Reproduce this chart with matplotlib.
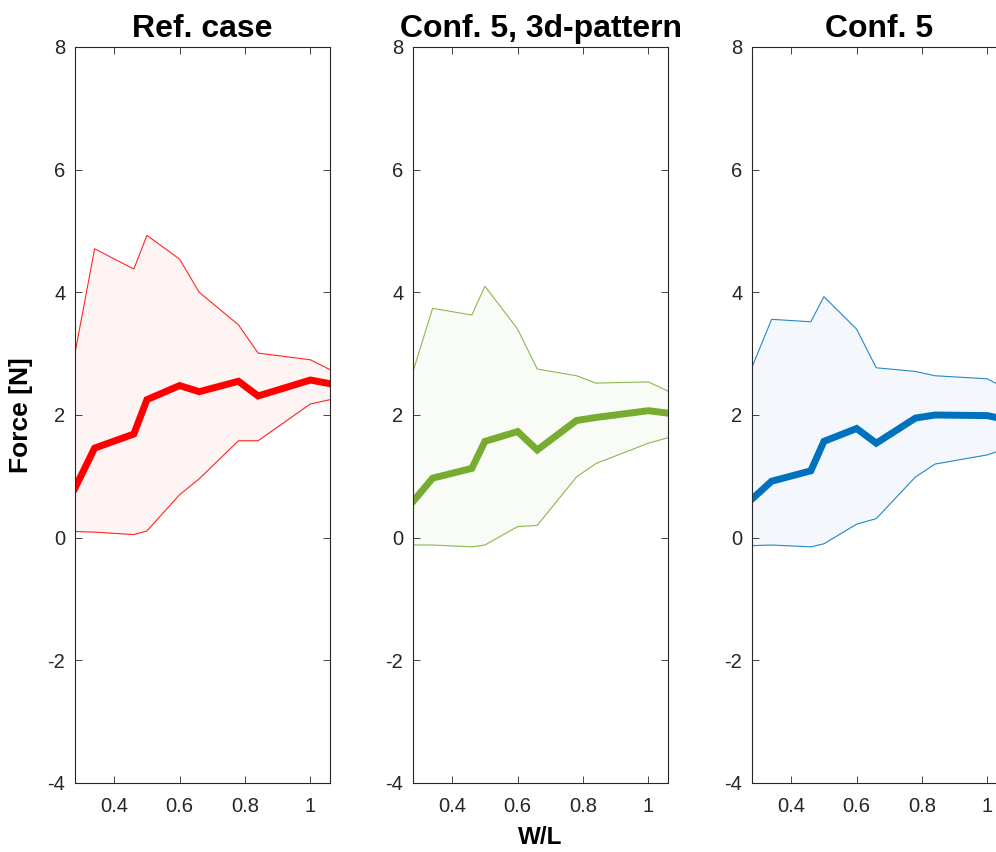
import matplotlib
matplotlib.use("Agg")
import matplotlib.pyplot as plt

plt.rcParams['font.family'] = ['Liberation Sans', 'DejaVu Sans']
plt.rcParams['axes.unicode_minus'] = False

wl = [0.28, 0.34, 0.46, 0.50, 0.60, 0.66, 0.78, 0.84, 1.00, 1.06]

titles = ["Ref. case", "Conf. 5, 3d-pattern", "Conf. 5"]

ref_mean = [0.81, 1.46, 1.69, 2.25, 2.48, 2.38, 2.55, 2.31, 2.57, 2.51]
ref_upper = [3.01, 4.71, 4.38, 4.93, 4.54, 4.00, 3.47, 3.01, 2.90, 2.74]
ref_lower = [0.10, 0.09, 0.05, 0.11, 0.70, 0.96, 1.58, 1.58, 2.18, 2.25]

p3d_mean = [0.59, 0.97, 1.13, 1.57, 1.73, 1.43, 1.91, 1.96, 2.07, 2.03]
p3d_upper = [2.71, 3.74, 3.63, 4.10, 3.40, 2.75, 2.64, 2.52, 2.54, 2.39]
p3d_lower = [-0.12, -0.12, -0.15, -0.12, 0.18, 0.20, 0.99, 1.21, 1.54, 1.63]

c5_mean = [0.63, 0.92, 1.09, 1.57, 1.78, 1.54, 1.95, 2.00, 1.99, 1.92]
c5_upper = [2.78, 3.56, 3.52, 3.93, 3.40, 2.77, 2.71, 2.64, 2.59, 2.42]
c5_lower = [-0.13, -0.12, -0.15, -0.10, 0.22, 0.31, 0.99, 1.20, 1.35, 1.46]

colors = ["#FF0000", "#77AC30", "#0072BD"]
means = [ref_mean, p3d_mean, c5_mean]
uppers = [ref_upper, p3d_upper, c5_upper]
lowers = [ref_lower, p3d_lower, c5_lower]

yticks = [-4, -2, 0, 2, 4, 6, 8]
xticks = [0.4, 0.6, 0.8, 1.0]
xticklabels = ["0.4", "0.6", "0.8", "1"]

fig = plt.figure(figsize=(9.96, 8.52), dpi=100)
lefts = [75 / 996, 413 / 996, 752 / 996]
width = 255 / 996
bottom = 1 - 783 / 852
height = (783 - 47) / 852

for i in range(3):
    ax = fig.add_axes([lefts[i], bottom, width, height])
    c = colors[i]
    ax.fill_between(wl, lowers[i], uppers[i], color=c, alpha=0.045, linewidth=0)
    ax.plot(wl, uppers[i], color=c, lw=0.8, alpha=0.85)
    ax.plot(wl, lowers[i], color=c, lw=0.8, alpha=0.85)
    ax.plot(wl, means[i], color=c, lw=5, solid_joinstyle='miter')
    ax.set_xlim(0.28, 1.06)
    ax.set_ylim(-4, 8)
    ax.set_yticks(yticks)
    ax.set_xticks(xticks)
    ax.set_xticklabels(xticklabels)
    ax.tick_params(direction='in', top=True, right=True, length=5, width=0.6,
                   labelsize=14.5, colors='#262626')
    ax.tick_params(axis='x', pad=10)
    ax.tick_params(axis='y', pad=7)
    for s in ax.spines.values():
        s.set_color('#262626')
        s.set_linewidth(0.8)
    ax.set_title(titles[i], fontsize=23, fontweight='bold', pad=7)
    if i == 0:
        ax.set_ylabel("Force [N]", fontsize=19, fontweight='bold')
        ax.yaxis.set_label_coords(-0.165, 0.5)
    if i == 1:
        ax.set_xlabel("W/L", fontsize=17.5, fontweight='bold')
        ax.xaxis.set_label_coords(0.5, -0.059)

fig.savefig("out.png", dpi=100)
